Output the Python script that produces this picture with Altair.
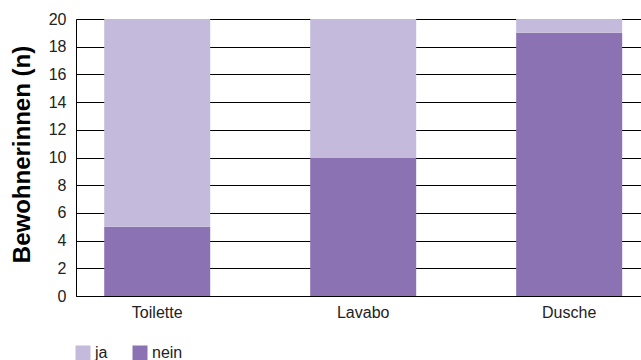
import altair as alt
import pandas as pd

categories = ["Toilette", "Lavabo", "Dusche"]
ja_values = [15, 10, 1]
nein_values = [5, 10, 19]
series = ["ja", "nein"]
colors = ["#C4BBDC", "#8B72B3"]

rows = []
for c, j, n in zip(categories, ja_values, nein_values):
    rows.append({"Ort": c, "Antwort": "nein", "n": n, "ord": 0})
    rows.append({"Ort": c, "Antwort": "ja", "n": j, "ord": 1})
df = pd.DataFrame(rows)

FONT = "Liberation Sans"

chart = alt.Chart(df).mark_bar(size=106).encode(
    x=alt.X("Ort:N", sort=categories, title=None,
            scale=alt.Scale(paddingInner=0.485, paddingOuter=0.114, align=0.6),
            axis=alt.Axis(labelAngle=0, ticks=False, labelPadding=8, labelFontSize=16,
                          labelColor="#222222", labelFont=FONT, domainColor="#000000",
                          domainWidth=1)),
    y=alt.Y("n:Q", stack="zero", title="Bewohnerinnen (n)",
            scale=alt.Scale(domain=[0, 20], nice=False),
            axis=alt.Axis(values=list(range(0, 21, 2)), ticks=False, labelPadding=10,
                          labelFontSize=16, labelColor="#222222", labelFont=FONT,
                          gridColor="#000000", gridWidth=1, gridOpacity=1,
                          domainColor="#000000", domainWidth=1,
                          titleFont=FONT, titleFontSize=24, titleFontWeight="bold",
                          titleColor="#000000", titlePadding=14, titleY=135)),
    color=alt.Color("Antwort:N", scale=alt.Scale(domain=series, range=colors),
                    legend=alt.Legend(title=None, orient="none", direction="horizontal",
                                      legendX=-1, legendY=326,
                                      symbolType="square", symbolSize=225,
                                      symbolStrokeWidth=0, labelFontSize=16,
                                      labelFont=FONT, labelColor="#222222",
                                      columnPadding=24, labelOffset=4)),
    order=alt.Order("ord:Q"),
).properties(
    width=565, height=277,
    padding={"left": 76, "top": 19, "right": 0, "bottom": 64},
    autosize=alt.AutoSizeParams(type="none"),
).configure_view(stroke=None).configure(background="white")

chart.save("out.html", embed_options={"renderer": "svg", "actions": False})
